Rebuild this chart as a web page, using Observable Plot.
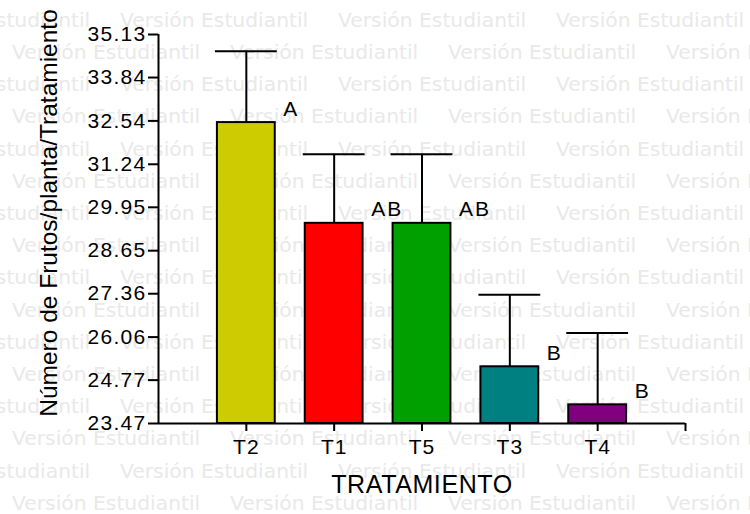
<!DOCTYPE html>
<html>
<head>
<meta charset="utf-8">
<script src="https://cdn.jsdelivr.net/npm/d3@7"></script>
<script src="https://cdn.jsdelivr.net/npm/@observablehq/plot@0.6"></script>
<style>
  html, body { margin: 0; padding: 0; background: #ffffff; }
  #wrap { position: relative; width: 750px; height: 514px; overflow: hidden; }
  #wm, #chart { position: absolute; left: 0; top: 0; }
  #chart svg { background: transparent; }
  [aria-label="y-axis tick label"] text { letter-spacing: 1.3px; }
  [aria-label="x-axis tick label"] text { letter-spacing: 1px; }
  .letters text { letter-spacing: 2px; }
  .xtitle text { letter-spacing: 0.6px; }
</style>
</head>
<body>
<div id="wrap">
  <svg id="wm" width="750" height="514"></svg>
  <div id="chart"></div>
</div>
<script>
// ---- data ----
const categories = ["T2", "T1", "T5", "T3", "T4"];
const means      = [32.49, 29.47, 29.47, 25.17, 24.03];
const errors     = [2.14, 2.07, 2.07, 2.16, 2.15];
const letters    = ["A", "AB", "AB", "B", "B"];
const colors     = ["#cccc00", "#ff0000", "#00a000", "#008080", "#800080"];
const yTicks     = [23.47, 24.77, 26.06, 27.36, 28.65, 29.95, 31.24, 32.54, 33.84, 35.13];
const yTickLabels = ["23.47", "24.77", "26.06", "27.36", "28.65", "29.95", "31.24", "32.54", "33.84", "35.13"];
const yTitle = "Número de Frutos/planta/Tratamiento";
const xTitle = "TRATAMIENTO";
const watermark = "Versión Estudiantil";

const yMin = yTicks[0], yMax = yTicks[yTicks.length - 1];
const data = categories.map((c, i) => ({
  cat: c, pos: i + 1, mean: means[i], err: errors[i], letter: letters[i], color: colors[i]
}));

// ---- watermark (decorative background) ----
const wm = d3.select("#wm");
for (let k = 0; k < 16; k++) {
  const y = 26.8 + 32.2 * k;
  const start = (k % 2 === 0) ? -98 : 12;
  for (let x = start; x < 750; x += 218) {
    wm.append("text")
      .attr("x", x).attr("y", y)
      .attr("font-family", "'DejaVu Sans', sans-serif")
      .attr("font-size", 20.3)
      .attr("fill", "#e9e9e9")
      .text(watermark);
  }
}

// ---- chart ----
const chart = Plot.plot({
  width: 750,
  height: 514,
  marginLeft: 158,
  marginRight: 65,
  marginTop: 34,
  marginBottom: 91,
  style: { fontFamily: "'Liberation Sans', Arial, sans-serif", background: "transparent", color: "#000" },
  x: { domain: [0, 6], axis: null },
  y: { domain: [yMin, yMax], axis: null },
  marks: [
    Plot.rectY(data, {
      x1: d => d.pos - 0.5, x2: d => d.pos + 0.5,
      y1: () => yMin, y2: "mean",
      fill: "color", stroke: "#000", strokeWidth: 2,
      insetLeft: 15, insetRight: 15
    }),
    Plot.ruleX(data, { x: "pos", y1: "mean", y2: d => d.mean + d.err, stroke: "#000", strokeWidth: 2 }),
    Plot.ruleY(data, {
      y: d => d.mean + d.err, x1: d => d.pos - 0.5, x2: d => d.pos + 0.5,
      insetLeft: 13, insetRight: 13, stroke: "#000", strokeWidth: 2
    }),
    Plot.ruleX([0], { stroke: "#000", strokeWidth: 2 }),
    Plot.ruleY([yMin], { stroke: "#000", strokeWidth: 2 }),
    Plot.axisY({
      ticks: yTicks, tickFormat: (d, i) => yTickLabels[i],
      tickSize: 10, tickPadding: 2, fontSize: 21, strokeWidth: 2, label: null
    }),
    Plot.axisX({
      ticks: [1, 2, 3, 4, 5, 6], tickFormat: d => categories[d - 1] ?? "",
      tickSize: 8, tickPadding: 8, fontSize: 21, strokeWidth: 2, label: null
    }),
    Plot.text(data, {
      x: "pos", y: "mean", text: "letter",
      dx: 37, dy: -7, textAnchor: "start", lineAnchor: "bottom",
      fontSize: 21, fill: "#000", className: "letters"
    }),
    Plot.text([yTitle], {
      text: d => d, frameAnchor: "left", textAnchor: "middle", rotate: -90,
      dx: -102, dy: -16, lineAnchor: "bottom", fontSize: 24.5, fill: "#000"
    }),
    Plot.text([xTitle], {
      text: d => d, frameAnchor: "bottom", textAnchor: "middle",
      dy: 69, lineAnchor: "bottom", fontSize: 25, fill: "#000", className: "xtitle"
    })
  ]
});
document.getElementById("chart").appendChild(chart);
</script>
</body>
</html>
